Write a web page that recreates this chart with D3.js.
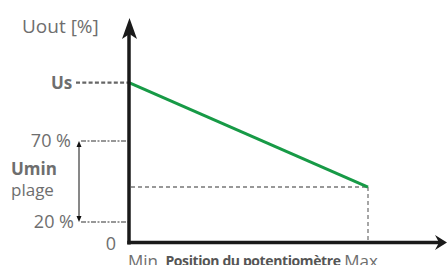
<!DOCTYPE html>
<html><head><meta charset="utf-8">
<script src="https://cdn.jsdelivr.net/npm/d3@7"></script>
<style>body{margin:0;background:#fff}svg{display:block}text{font-family:"Open Sans","Noto Sans",sans-serif}</style>
</head><body><svg id="c" width="447" height="265"></svg>
<script>
// Data (schematic values, %)
const xPositions = ["Min", "Max"];
const xValues = [0, 100];
const usValue = 106;          // Us level (start of the line)
const endValue = 41.6;        // level at Max position
const lineValues = [usValue, endValue];
const rangeTicks = [70, 20];  // Umin range bounds
const rangeLabels = ["70 %", "20 %"];
const yTitle = "Uout [%]";
const xTitle = "Position du potentiomètre";

const svg = d3.select("#c");
const grey = "#6e6e6e", dash = "#777";
const x = d3.scaleLinear().domain([0, 100]).range([129, 368]);
// schematic axis: zero offset then linear
const y = d3.scaleLinear().domain([0, 20, 130]).range([243, 222, 43.8]);

// dashed guide lines
svg.append("line").attr("x1", x(0) + 2).attr("x2", x(100)).attr("y1", y(endValue)).attr("y2", y(endValue))
  .attr("stroke", dash).attr("stroke-width", 1.3).attr("stroke-dasharray", "4,3");
svg.append("line").attr("x1", x(100)).attr("x2", x(100)).attr("y1", y(endValue)).attr("y2", y(0))
  .attr("stroke", dash).attr("stroke-width", 1.3).attr("stroke-dasharray", "4,3");
svg.selectAll(".rl").data(rangeTicks).join("line")
  .attr("x1", 81).attr("x2", x(0)).attr("y1", d => y(d)).attr("y2", d => y(d))
  .attr("stroke", dash).attr("stroke-width", 1.3).attr("stroke-dasharray", "5,1.5,2,1.5");
svg.append("line").attr("x1", 76).attr("x2", x(0)).attr("y1", y(usValue)).attr("y2", y(usValue))
  .attr("stroke", "#666").attr("stroke-width", 2.2).attr("stroke-dasharray", "4,2.3");

// green line
svg.append("path").datum(xValues.map((v, i) => [v, lineValues[i]]))
  .attr("d", d3.line().x(d => x(d[0])).y(d => y(d[1])))
  .attr("stroke", "#179a46").attr("stroke-width", 3).attr("fill", "none");

// axes
svg.append("line").attr("x1", x(0)).attr("x2", x(0)).attr("y1", 30).attr("y2", 244.5)
  .attr("stroke", "#1a1a1a").attr("stroke-width", 3.5);
svg.append("line").attr("x1", x(0) - 1.7).attr("x2", 440).attr("y1", 242.5).attr("y2", 242.5)
  .attr("stroke", "#1a1a1a").attr("stroke-width", 3.5);
svg.append("path").attr("d", "M129.5,18 L137,39 L129.5,34 L122,39 Z").attr("fill", "#1a1a1a");
svg.append("path").attr("d", "M447,242.5 L435,235 L439,242.5 L435,250 Z").attr("fill", "#1a1a1a");

// double arrow
svg.append("line").attr("x1", 79).attr("x2", 79).attr("y1", y(70) + 3).attr("y2", y(20) - 3)
  .attr("stroke", "#111").attr("stroke-width", 1);
svg.append("path").attr("d", `M79,${y(70)} l-2.5,6 h5 Z`).attr("fill", "#111");
svg.append("path").attr("d", `M79,${y(20)} l-2.5,-6 h5 Z`).attr("fill", "#111");

// texts
svg.append("text").attr("x", 22).attr("y", 33).text(yTitle).attr("fill", grey).attr("font-size", 19);
svg.append("text").attr("x", 51).attr("y", y(usValue) + 6.5).text("Us").attr("fill", grey)
  .attr("font-size", 17).attr("font-weight", "bold");
svg.selectAll(".rt").data(rangeTicks).join("text")
  .attr("x", (d, i) => i === 0 ? 71 : 74).attr("y", d => y(d) + 5.5).attr("text-anchor", "end")
  .attr("fill", grey).attr("font-size", 18).text((d, i) => rangeLabels[i]);
svg.append("text").attr("x", 11).attr("y", 175).text("Umin").attr("fill", grey)
  .attr("font-size", 17).attr("font-weight", "bold");
svg.append("text").attr("x", 11).attr("y", 196).text("plage").attr("fill", grey).attr("font-size", 17);
svg.append("text").attr("x", 116).attr("y", 250).attr("text-anchor", "end").text("0")
  .attr("fill", grey).attr("font-size", 18);
svg.selectAll(".xt").data(xValues).join("text")
  .attr("x", d => x(d) + (d === 0 ? 14 : -7)).attr("y", 267).attr("text-anchor", "middle")
  .attr("fill", grey).attr("font-size", 17).text((d, i) => xPositions[i]);
svg.append("text").attr("x", 253).attr("y", 266).attr("text-anchor", "middle").text(xTitle)
  .attr("fill", "#555").attr("font-size", 14).attr("font-weight", "bold").attr("letter-spacing", -0.4);
</script></body></html>
